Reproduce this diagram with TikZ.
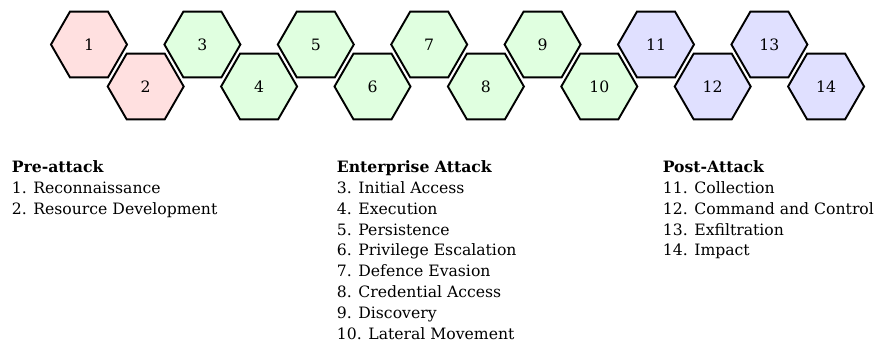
\documentclass[tikz,border=0pt]{standalone}
\usepackage{fontspec}
\setmainfont{DejaVu Serif}
\usetikzlibrary{shapes.geometric}
\definecolor{prefill}{RGB}{255,224,224}
\definecolor{entfill}{RGB}{224,255,224}
\definecolor{postfill}{RGB}{224,224,255}
\newcommand{\txtsize}{\fontsize{9}{12}\selectfont}
\begin{document}
\begin{tikzpicture}[x=0.575pt,y=-0.575pt,
  hexa/.style={regular polygon, regular polygon sides=6, minimum size=43.7pt,
    inner sep=0pt, draw=black, line width=1.1pt, font=\txtsize},
  pre/.style={hexa, fill=prefill},
  ent/.style={hexa, fill=entfill},
  post/.style={hexa, fill=postfill},
  legend/.style={anchor=base west, align=left, inner sep=0pt, font=\txtsize}]
\useasboundingbox (0,0) rectangle (887,341);
% top row (odd) and bottom row (even) of tactics
\foreach \n/\st in {1/pre,2/pre,3/ent,4/ent,5/ent,6/ent,7/ent,8/ent,9/ent,10/ent,11/post,12/post,13/post,14/post}{
  \pgfmathsetmacro{\hx}{89+56.7*(\n-1)}
  \pgfmathsetmacro{\hy}{isodd(\n) ? 44.5 : 86.5}
  \node[\st] (h\n) at (\hx,\hy) {\n};
}
% phase legends (anchored just below the baseline of their last line)
\node[legend] (preleg) at (11.5,214.2) {\textbf{Pre-attack}\\1. Reconnaissance\\2. Resource Development};
\node[legend] (entleg) at (336.5,339.4) {\textbf{Enterprise Attack}\\3. Initial Access\\4. Execution\\5. Persistence\\6. Privilege Escalation\\7. Defence Evasion\\8. Credential Access\\9. Discovery\\10. Lateral Movement};
\node[legend] (postleg) at (662.5,256) {\textbf{Post-Attack}\\11. Collection\\12. Command and Control\\13. Exfiltration\\14. Impact};
\end{tikzpicture}
\end{document}
